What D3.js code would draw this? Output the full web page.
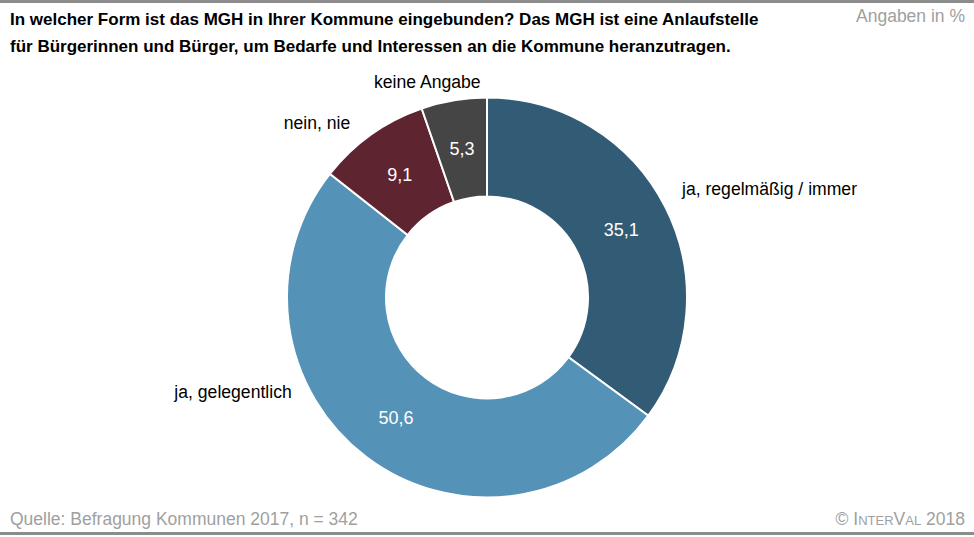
<!DOCTYPE html>
<html><head><meta charset="utf-8">
<script src="https://cdn.jsdelivr.net/npm/d3@7"></script>
<style>
body{margin:0;background:#fff}
svg{display:block;font-family:"Liberation Sans",Arial,Helvetica,sans-serif}
</style></head><body>
<svg id="c" width="974" height="537"></svg>
<script>
const categories = ["ja, regelmäßig / immer", "ja, gelegentlich", "nein, nie", "keine Angabe"];
const values = [35.1, 50.6, 9.1, 5.3];
const valueLabels = ["35,1", "50,6", "9,1", "5,3"];
const colors = ["#325b76", "#5492b7", "#5e2430", "#454545"];
const titleLines = [
  "In welcher Form ist das MGH in Ihrer Kommune eingebunden? Das MGH ist eine Anlaufstelle",
  "für Bürgerinnen und Bürger, um Bedarfe und Interessen an die Kommune heranzutragen."
];
const unitNote = "Angaben in %";
const sourceNote = "Quelle: Befragung Kommunen 2017, n = 342";

const W = 974, H = 537;
const svg = d3.select("#c");

// frame lines
svg.append("rect").attr("x",0).attr("y",0).attr("width",W).attr("height",3).attr("fill","#8c8c8c");
svg.append("rect").attr("x",0).attr("y",532).attr("width",W).attr("height",3).attr("fill","#8c8c8c");

// title
const t = svg.append("text").attr("font-size",17).attr("font-weight","bold").attr("fill","#000");
titleLines.forEach((l,i)=>t.append("tspan").attr("x",10).attr("y",25+i*27).text(l));

svg.append("text").attr("x",965).attr("y",22).attr("text-anchor","end")
  .attr("font-size",17.5).attr("fill","#a0a0a0").text(unitNote);

svg.append("text").attr("x",10).attr("y",525)
  .attr("font-size",17.5).attr("fill","#a0a0a0").text(sourceNote);

const cp = svg.append("text").attr("x",965).attr("y",525).attr("text-anchor","end")
  .attr("font-size",17.5).attr("fill","#a0a0a0");
cp.append("tspan").text("© I");
cp.append("tspan").attr("font-size",13).text("NTER");
cp.append("tspan").text("V");
cp.append("tspan").attr("font-size",13).text("AL");
cp.append("tspan").text(" 2018");

// donut
const cx = 487, cy = 297.5, rOuter = 200, rInner = 101;
const g = svg.append("g").attr("transform",`translate(${cx},${cy})`);
const pie = d3.pie().sort(null).value(d=>d);
const arcs = pie(values);
const arc = d3.arc().innerRadius(rInner).outerRadius(rOuter);
g.selectAll("path.slice").data(arcs).join("path")
  .attr("class","slice")
  .attr("d",arc)
  .attr("fill",(d,i)=>colors[i])
  .attr("stroke","#fff").attr("stroke-width",2);

g.selectAll("text.val").data(arcs).join("text")
  .attr("class","val")
  .attr("x",d=>arc.centroid(d)[0])
  .attr("y",d=>arc.centroid(d)[1])
  .attr("dy","0.35em")
  .attr("text-anchor","middle")
  .attr("font-size",18).attr("fill","#fff")
  .text((d,i)=>valueLabels[i]);

// category labels placed from slice mid-angle, with layout nudges
const labelArc = d3.arc().innerRadius(222).outerRadius(222);
const anchors = ["start","end","end","middle"];
const nudge = [[-3,-2],[-61,-76],[-8,12],[-23,9]];
g.selectAll("text.cat").data(arcs).join("text")
  .attr("class","cat")
  .attr("x",(d,i)=>labelArc.centroid(d)[0]+nudge[i][0])
  .attr("y",(d,i)=>labelArc.centroid(d)[1]+nudge[i][1])
  .attr("text-anchor",(d,i)=>anchors[i])
  .attr("font-size",17.6).attr("fill","#000")
  .text((d,i)=>categories[i]);
</script>
</body></html>
